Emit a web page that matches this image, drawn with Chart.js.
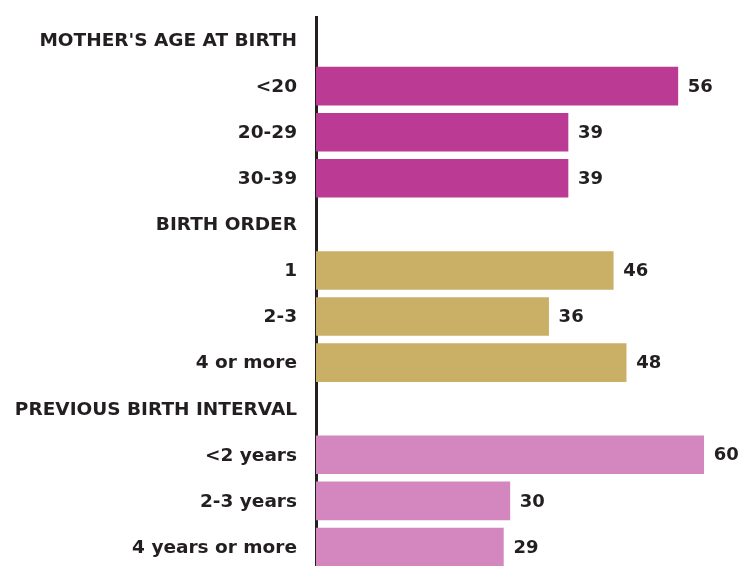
<!DOCTYPE html>
<html>
<head>
<meta charset="utf-8">
<script src="https://cdn.jsdelivr.net/npm/chart.js@4.4.1/dist/chart.umd.min.js"></script>
<style>
  html, body { margin: 0; padding: 0; background: #fff; overflow: hidden; }
  #wrap { position: relative; width: 739px; height: 570px; }
</style>
</head>
<body>
<div id="wrap"><canvas id="chart-bar"></canvas></div>
<script>
// rows, top to bottom (headers have no value)
const labels = [
  "MOTHER'S AGE AT BIRTH", "<20", "20-29", "30-39",
  "BIRTH ORDER", "1", "2-3", "4 or more",
  "PREVIOUS BIRTH INTERVAL", "<2 years", "2-3 years", "4 years or more"
];
const values = [null, 56, 39, 39, null, 46, 36, 48, null, 60, 30, 29];
const groupColors = ["#bb3a94", "#c9b066", "#d487bf"];
const rowGroup = [0, 0, 0, 0, 1, 1, 1, 1, 2, 2, 2, 2];

const textColor = "#231f20";
const fontFamily = "'DejaVu Sans', sans-serif";

// draws the number to the right of each bar
const valueLabels = {
  id: "valueLabels",
  afterDatasetsDraw(chart) {
    const ctx = chart.ctx;
    const meta = chart.getDatasetMeta(0);
    ctx.save();
    ctx.font = "bold 18px " + fontFamily;
    ctx.fillStyle = textColor;
    ctx.textBaseline = "middle";
    ctx.textAlign = "left";
    meta.data.forEach((bar, i) => {
      if (values[i] == null) return;
      ctx.fillText(String(values[i]), bar.x + 10, bar.y + 1);
    });
    ctx.restore();
  }
};

const ctx = document.getElementById("chart-bar");
new Chart(ctx, {
  type: "bar",
  data: {
    labels: labels,
    datasets: [{
      data: values,
      backgroundColor: rowGroup.map(g => groupColors[g]),
      barThickness: 38,
      borderWidth: 0
    }]
  },
  plugins: [valueLabels],
  options: {
    indexAxis: "y",
    responsive: true,
    maintainAspectRatio: false,
    animation: false,
    layout: { padding: { top: 17, right: 3, bottom: 0, left: 0 } },
    plugins: { legend: { display: false }, tooltip: { enabled: false } },
    scales: {
      x: {
        display: false,
        min: 0,
        max: 65
      },
      y: {
        grid: { display: false },
        border: { display: true, color: "#231f20", width: 3 },
        ticks: {
          color: textColor,
          padding: 11,
          labelOffset: 1,
          font: { family: fontFamily, size: 18.5, weight: "bold" }
        },
        afterFit(scale) {
          scale.width = 316;
          scale.paddingTop = 0;
          scale.paddingBottom = 0;
        }
      }
    }
  }
});
</script>
</body>
</html>
